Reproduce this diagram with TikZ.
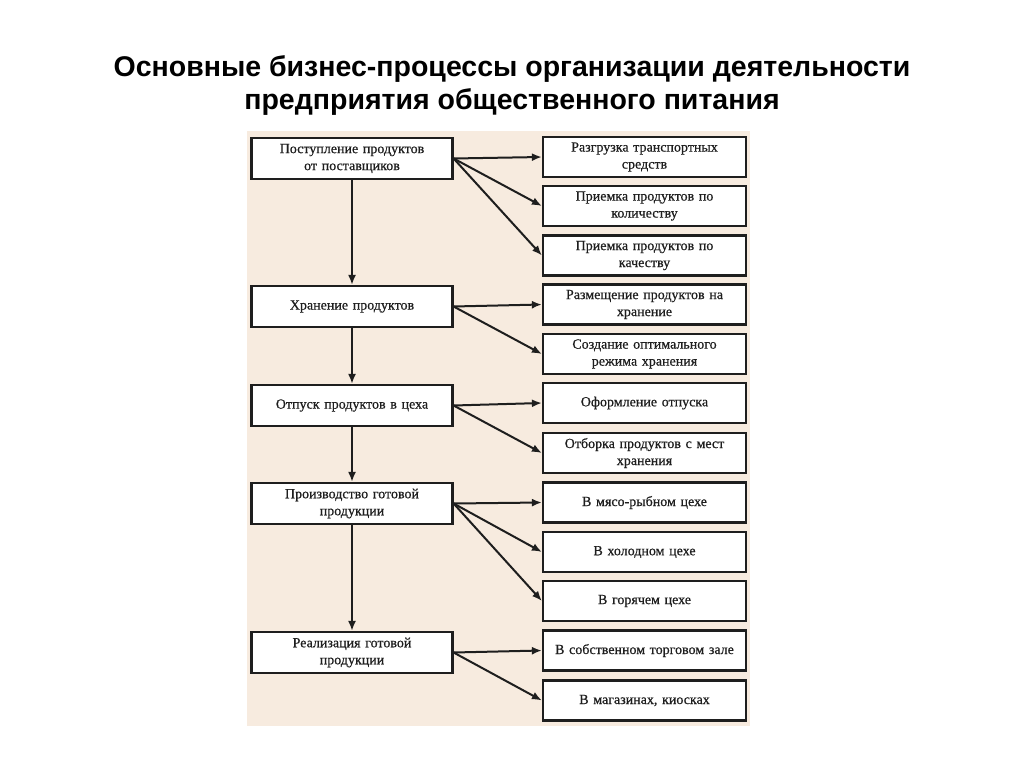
\documentclass[tikz,border=0pt]{standalone}
\usepackage{fontspec}
\setmainfont{Liberation Serif}[FakeBold=0.6]
\newfontfamily\titlefont{Liberation Sans}
\usetikzlibrary{arrows.meta}
\definecolor{beige}{HTML}{F7EBDF}
\definecolor{ink}{HTML}{1E1E1E}
\begin{document}
\begin{tikzpicture}[x=1pt,y=-1pt,
  leftbox/.style={draw=ink,line width=2.2pt,fill=white,minimum width=201pt,minimum height=41pt,inner sep=0pt,text width=195pt,align=center,font=\fontsize{14}{17}\selectfont,text=ink},
  rightbox/.style={draw=ink,line width=2.2pt,fill=white,minimum width=203pt,minimum height=40pt,inner sep=0pt,text width=198pt,align=center,font=\fontsize{14}{17}\selectfont,text=ink},
  arr/.style={draw=ink,line width=2pt,-{Latex[length=10pt,width=8pt]}}]
\useasboundingbox (0,0) rectangle (1024,767);
\fill[white] (0,0) rectangle (1024,767);
\fill[beige] (247,131) rectangle (750,726);
\node[font=\titlefont\bfseries\fontsize{28.5}{33}\selectfont,align=center,text=black] (title) at (512,86) {Основные бизнес-процессы организации деятельности\\предприятия общественного питания};
% left column
\node[leftbox] (L1) at (352,158.5) {Поступление продуктов\\от поставщиков};
\node[leftbox] (L2) at (352,306.5) {Хранение продуктов};
\node[leftbox] (L3) at (352,405.5) {Отпуск продуктов в цеха};
\node[leftbox] (L4) at (352,503.5) {Производство готовой\\продукции};
\node[leftbox] (L5) at (352,652.5) {Реализация готовой\\продукции};
% right column
\node[rightbox] (R0) at (644.5,157.0) {Разгрузка транспортных\\средств};
\node[rightbox] (R1) at (644.5,206.0) {Приемка продуктов по\\количеству};
\node[rightbox] (R2) at (644.5,255.5) {Приемка продуктов по\\качеству};
\node[rightbox] (R3) at (644.5,304.5) {Размещение продуктов на\\хранение};
\node[rightbox] (R4) at (644.5,354.0) {Создание оптимального\\режима хранения};
\node[rightbox] (R5) at (644.5,403.0) {Оформление отпуска};
\node[rightbox] (R6) at (644.5,453.0) {Отборка продуктов с мест\\хранения};
\node[rightbox] (R7) at (644.5,502.5) {В мясо-рыбном цехе};
\node[rightbox] (R8) at (644.5,552.0) {В холодном цехе};
\node[rightbox] (R9) at (644.5,601.0) {В горячем цехе};
\node[rightbox] (R10) at (644.5,650.5) {В собственном торговом зале};
\node[rightbox] (R11) at (644.5,700.5) {В магазинах, киосках};
% vertical arrows
\draw[arr] (L1.south) -- (L2.north);
\draw[arr] (L2.south) -- (L3.north);
\draw[arr] (L3.south) -- (L4.north);
\draw[arr] (L4.south) -- (L5.north);
% fan-out arrows
\draw[arr] (L1.east) -- (R0.west);
\draw[arr] (L1.east) -- (R1.west);
\draw[arr] (L1.east) -- (R2.west);
\draw[arr] (L2.east) -- (R3.west);
\draw[arr] (L2.east) -- (R4.west);
\draw[arr] (L3.east) -- (R5.west);
\draw[arr] (L3.east) -- (R6.west);
\draw[arr] (L4.east) -- (R7.west);
\draw[arr] (L4.east) -- (R8.west);
\draw[arr] (L4.east) -- (R9.west);
\draw[arr] (L5.east) -- (R10.west);
\draw[arr] (L5.east) -- (R11.west);
\end{tikzpicture}
\end{document}
